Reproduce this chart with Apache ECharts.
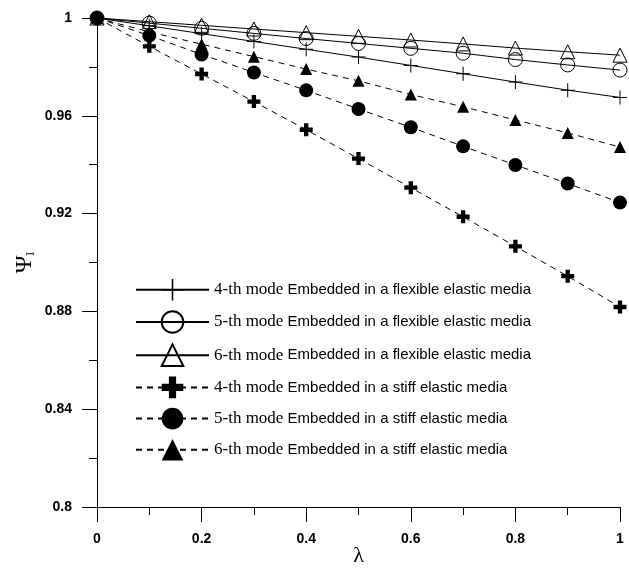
<!DOCTYPE html>
<html>
<head>
<meta charset="utf-8">
<script src="https://cdn.jsdelivr.net/npm/echarts@6/dist/echarts.min.js"></script>
<style>
  html, body { margin: 0; padding: 0; background: #fff; }
  #chart { width: 629px; height: 572px; }
</style>
</head>
<body>
<div id="chart"></div>
<script>
// lambda values and Psi_I for each mode
var lambda = [0, 0.1, 0.2, 0.3, 0.4, 0.5, 0.6, 0.7, 0.8, 0.9, 1];
var flex4 = [1, 0.9968, 0.9936, 0.9904, 0.9872, 0.984, 0.9806, 0.9772, 0.9738, 0.9705, 0.9675];
var flex5 = [1, 0.9979, 0.9958, 0.9937, 0.9916, 0.9896, 0.9876, 0.9856, 0.983, 0.9808, 0.9787];
var flex6 = [1, 0.9985, 0.997, 0.9955, 0.994, 0.9925, 0.991, 0.9894, 0.9877, 0.9862, 0.9848];
var stiff4 = [1, 0.9884, 0.9771, 0.9658, 0.9543, 0.9425, 0.9306, 0.9187, 0.9066, 0.8944, 0.8818];
var stiff5 = [1, 0.9928, 0.9851, 0.9777, 0.9704, 0.9628, 0.9553, 0.9475, 0.9399, 0.9323, 0.9245];
var stiff6 = [1, 0.9943, 0.9893, 0.9842, 0.9791, 0.9743, 0.9687, 0.9637, 0.9583, 0.953, 0.9472];

var names = [
  '4-th mode Embedded in a flexible elastic media',
  '5-th mode Embedded in a flexible elastic media',
  '6-th mode Embedded in a flexible elastic media',
  '4-th mode Embedded in a stiff elastic media',
  '5-th mode Embedded in a stiff elastic media',
  '6-th mode Embedded in a stiff elastic media'
];

var thinPlus = 'path://M0,6.5h14v1h-14z M6.5,0h1v14h-1z';
var boldPlus = 'path://M4,0h4v4h4v4h-4v4h-4v-4h-4v-4h4z';

function pairs(ys) {
  return lambda.map(function (x, i) { return [x, ys[i]]; });
}

function mk(name, ys, symbol, size, hollow, dashed) {
  return {
    name: name,
    type: 'line',
    data: pairs(ys),
    symbol: symbol,
    symbolSize: size,
    showAllSymbol: true,
    animation: false,
    lineStyle: { color: '#000', width: 1, type: dashed ? [6, 5] : 'solid' },
    itemStyle: hollow
      ? { color: 'rgba(0,0,0,0)', borderColor: '#000', borderWidth: 1 }
      : { color: '#000', borderWidth: 0 }
  };
}

function lbl() {
  return {
    margin: 25,
    fontFamily: 'Liberation Sans',
    fontSize: 14,
    fontWeight: 'bold',
    color: '#000',
    formatter: function (v) { return String(+v.toFixed(2)); }
  };
}

var myChart = echarts.init(document.getElementById('chart'));
myChart.setOption({
  backgroundColor: '#fff',
  grid: { left: 97, right: 9, top: 18, bottom: 65, outerBoundsMode: 'none' },
  legend: {
    left: 130,
    top: 274,
    orient: 'vertical',
    itemWidth: 73,
    itemHeight: 27,
    itemGap: 9.6,
    selectedMode: false,
    data: names,
    formatter: function (n) {
      var i = n.indexOf(' Embedded');
      return '{t|' + n.slice(0, i) + '} {a|' + n.slice(i + 1) + '}';
    },
    textStyle: {
      fontSize: 15,
      rich: {
        t: { fontFamily: 'Liberation Serif', fontSize: 17, color: '#000' },
        a: { fontFamily: 'Liberation Sans', fontSize: 15, color: '#000' }
      }
    }
  },
  xAxis: {
    type: 'value',
    min: 0,
    max: 1,
    interval: 0.2,
    name: 'λ',
    nameLocation: 'middle',
    nameGap: 38,
    nameMoveOverlap: false,
    nameTextStyle: { fontFamily: 'Liberation Serif', fontSize: 22, color: '#000' },
    axisLine: { onZero: false, lineStyle: { color: '#000', width: 1 } },
    axisTick: { show: true, length: 15, lineStyle: { color: '#000', width: 1 } },
    minorTick: { show: true, splitNumber: 2, length: 8, lineStyle: { color: '#000', width: 1 } },
    splitLine: { show: false },
    axisLabel: lbl()
  },
  yAxis: {
    type: 'value',
    min: 0.8,
    max: 1,
    interval: 0.04,
    name: '{p|Ψ}{s|I}',
    nameLocation: 'middle',
    nameGap: 60,
    nameMoveOverlap: false,
    nameTextStyle: {
      fontSize: 22,
      fontFamily: 'Liberation Serif',
      rich: {
        p: { fontFamily: 'Liberation Serif', fontSize: 24, color: '#000' },
        s: { fontFamily: 'Liberation Serif', fontSize: 12, color: '#000', verticalAlign: 'bottom' }
      }
    },
    axisLine: { show: true, onZero: false, lineStyle: { color: '#000', width: 1 } },
    axisTick: { show: true, length: 15, lineStyle: { color: '#000', width: 1 } },
    minorTick: { show: true, splitNumber: 2, length: 8, lineStyle: { color: '#000', width: 1 } },
    splitLine: { show: false },
    axisLabel: lbl()
  },
  series: [
    mk(names[0], flex4, thinPlus, 14, false, false),
    mk(names[1], flex5, 'circle', 14, true, false),
    mk(names[2], flex6, 'triangle', 14, true, false),
    mk(names[3], stiff4, boldPlus, 13, false, true),
    mk(names[4], stiff5, 'circle', 14, false, true),
    mk(names[5], stiff6, 'triangle', 12, false, true)
  ]
});
</script>
</body>
</html>
